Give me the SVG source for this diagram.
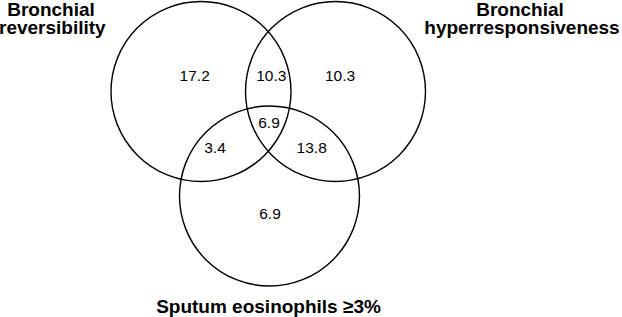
<svg xmlns="http://www.w3.org/2000/svg" width="622" height="317" viewBox="0 0 622 317">
<style>
.c{fill:none;stroke:#000;stroke-width:1.4}
.lbl{font-family:"Liberation Sans",Arial,sans-serif;font-weight:bold;font-size:19px;fill:#000}
.num{font-family:"Liberation Sans",Arial,sans-serif;font-size:15.5px;fill:#000;text-anchor:middle}
</style>
<rect width="622" height="317" fill="#fff"/>
<g id="reversibility">
<circle class="c" cx="201" cy="91.5" r="90"/>
<text class="lbl" x="51" y="16" text-anchor="middle">Bronchial</text>
<text class="lbl" x="-1" y="34" text-anchor="start">reversibility</text>
</g>
<g id="hyperresponsiveness">
<circle class="c" cx="335.5" cy="91.5" r="90"/>
<text class="lbl" x="520" y="16" text-anchor="middle">Bronchial</text>
<text class="lbl" x="522" y="34" text-anchor="middle">hyperresponsiveness</text>
</g>
<g id="eosinophils">
<circle class="c" cx="269.5" cy="196" r="90"/>
<text class="lbl" x="268.5" y="312.5" text-anchor="middle">Sputum eosinophils ≥3%</text>
</g>
<g id="values">
<text class="num" x="194.7" y="81">17.2</text>
<text class="num" x="271.3" y="81">10.3</text>
<text class="num" x="340" y="81">10.3</text>
<text class="num" x="269" y="127.5">6.9</text>
<text class="num" x="215" y="153">3.4</text>
<text class="num" x="311.7" y="153">13.8</text>
<text class="num" x="270" y="219">6.9</text>
</g>
<g id="connectors"></g>
</svg>
